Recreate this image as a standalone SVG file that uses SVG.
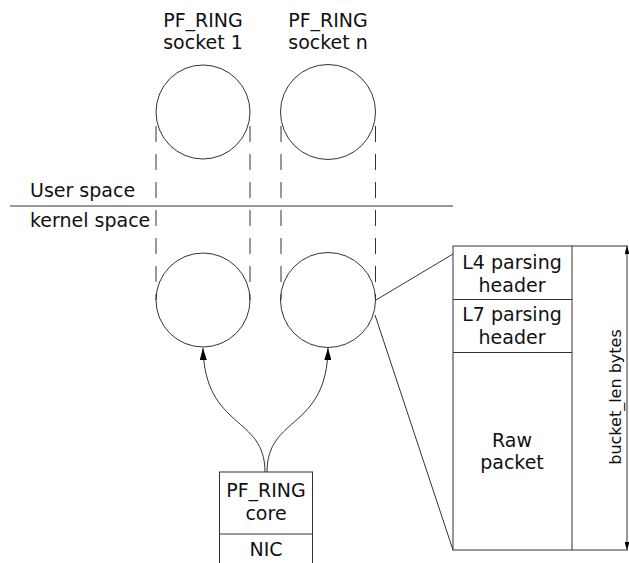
<svg xmlns="http://www.w3.org/2000/svg" width="629" height="563" viewBox="0 0 629 563">
<style>
text{font-family:"DejaVu Sans",sans-serif;font-size:19px;fill:#111;text-anchor:middle}
.l{fill:none;stroke:#333;stroke-width:1}
.d{fill:none;stroke:#333;stroke-width:1;stroke-dasharray:16 12}
</style>
<defs>
<marker id="ah" viewBox="0 0 10 10" preserveAspectRatio="none" refX="10" refY="5" markerWidth="12" markerHeight="7" markerUnits="userSpaceOnUse" orient="auto"><path d="M0 0L10 5L0 10z" fill="#000"/></marker>
<marker id="sa" viewBox="0 0 10 10" preserveAspectRatio="none" refX="10" refY="5" markerWidth="8" markerHeight="5" markerUnits="userSpaceOnUse" orient="auto-start-reverse"><path d="M0 0L10 5L0 10z" fill="#000"/></marker>
</defs>
<rect width="629" height="563" fill="#fff"/>
<g id="labels">
<text x="203" y="27">PF_RING</text><text x="203" y="49">socket 1</text>
<text x="328" y="27">PF_RING</text><text x="328" y="49">socket n</text>
<text x="30" y="197" style="text-anchor:start">User space</text>
<text x="30" y="227" style="text-anchor:start">kernel space</text>
<line class="l" x1="10" y1="206" x2="453" y2="206"/>
</g>
<g id="socket1-user"><circle class="l" cx="203" cy="112" r="47"/></g>
<g id="socketn-user"><circle class="l" cx="328" cy="112" r="47.5"/></g>
<g id="socket1-kernel"><circle class="l" cx="203" cy="300" r="47"/></g>
<g id="socketn-kernel"><circle class="l" cx="328" cy="300" r="47.5"/></g>
<g id="core"><rect class="l" x="219.5" y="472" width="93" height="100"/><line class="l" x1="219.5" y1="534" x2="312.5" y2="534"/>
<text x="266" y="497">PF_RING</text><text x="266" y="520">core</text><text x="266" y="556">NIC</text></g>
<g id="bucket">
<rect class="l" x="453" y="246" width="119" height="304"/>
<line class="l" x1="453" y1="299.5" x2="572" y2="299.5"/>
<line class="l" x1="453" y1="352.5" x2="572" y2="352.5"/>
<line class="l" x1="572" y1="246" x2="628" y2="246"/>
<line class="l" x1="572" y1="550" x2="628" y2="550"/>
<text x="512" y="269">L4 parsing</text><text x="512" y="292">header</text>
<text x="512" y="321">L7 parsing</text><text x="512" y="344">header</text>
<text x="512" y="447">Raw</text><text x="512" y="469">packet</text>
<text transform="translate(621,397) rotate(-90)" style="font-size:16px">bucket_len bytes</text>
</g>
<g id="connectors">
<line class="d" x1="156" y1="126" x2="156" y2="300"/>
<line class="d" x1="250" y1="126" x2="250" y2="300"/>
<line class="d" x1="281" y1="126" x2="281" y2="300"/>
<line class="d" x1="375.5" y1="126" x2="375.5" y2="300"/>
<path class="l" d="M265 472 C265 415 205 430 203 348" marker-end="url(#ah)"/>
<path class="l" d="M267 472 C267 415 327 430 328 348" marker-end="url(#ah)"/>
<line class="l" x1="376" y1="300" x2="453" y2="254"/>
<line class="l" x1="375" y1="315" x2="453" y2="550"/>
<line class="l" x1="627" y1="246" x2="627" y2="550" marker-start="url(#sa)" marker-end="url(#sa)"/>
</g>
</svg>
